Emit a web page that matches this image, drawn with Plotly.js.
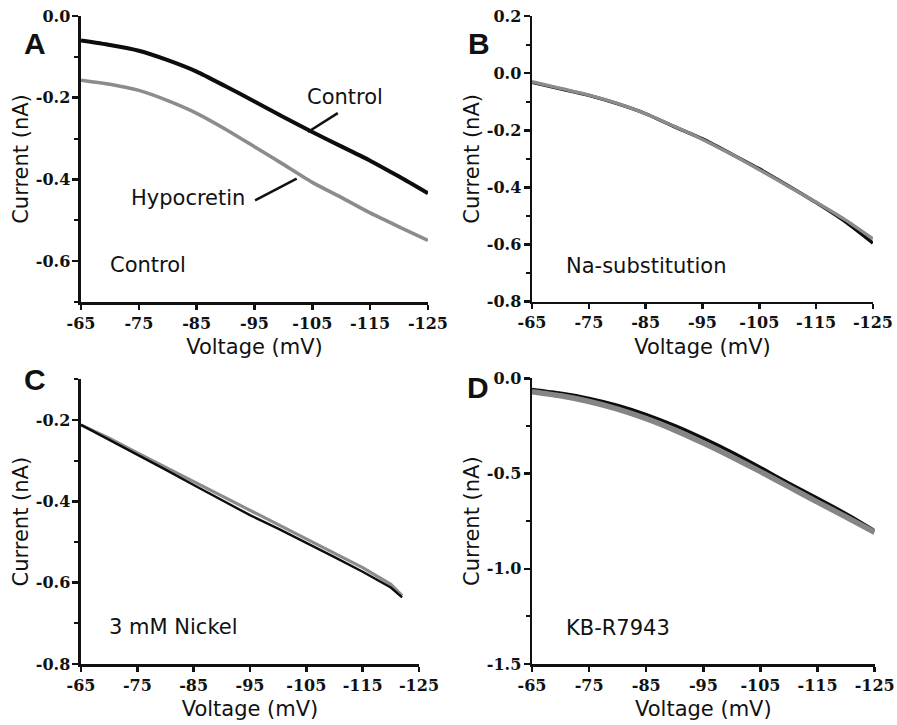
<!DOCTYPE html>
<html>
<head>
<meta charset="utf-8">
<script src="https://cdn.plot.ly/plotly-3.0.1.min.js"></script>
<style>html,body{margin:0;padding:0;background:#fff;}#chart{width:897px;height:725px;}</style>
</head>
<body>
<div id="chart"></div>
<script>
// ---- data ----
const voltage = [-65, -70, -75, -80, -85, -90, -95, -100, -105, -110, -115, -120, -125];
const aControl    = [-0.060, -0.071, -0.085, -0.108, -0.136, -0.172, -0.209, -0.247, -0.284, -0.319, -0.354, -0.393, -0.434];
const aHypocretin = [-0.157, -0.167, -0.182, -0.207, -0.238, -0.277, -0.320, -0.363, -0.407, -0.444, -0.482, -0.516, -0.549];
const bControl    = [-0.032, -0.055, -0.078, -0.107, -0.142, -0.187, -0.230, -0.282, -0.335, -0.393, -0.453, -0.518, -0.595];
const bHypocretin = [-0.030, -0.053, -0.077, -0.106, -0.142, -0.186, -0.232, -0.283, -0.338, -0.395, -0.452, -0.512, -0.580];
const voltageC    = [-65, -70, -75, -80, -85, -90, -95, -100, -105, -110, -115, -120, -122];
const cControl    = [-0.212, -0.248, -0.286, -0.322, -0.360, -0.396, -0.434, -0.467, -0.501, -0.537, -0.573, -0.612, -0.636];
const cHypocretin = [-0.212, -0.245, -0.281, -0.316, -0.352, -0.388, -0.422, -0.456, -0.491, -0.527, -0.563, -0.604, -0.632];
const dControl    = [-0.058, -0.078, -0.105, -0.142, -0.190, -0.248, -0.315, -0.388, -0.468, -0.551, -0.630, -0.711, -0.800];
const dHypocretin = [-0.070, -0.092, -0.122, -0.162, -0.212, -0.272, -0.340, -0.413, -0.490, -0.570, -0.650, -0.728, -0.808];

const xTickVals = [-65, -75, -85, -95, -105, -115, -125];
const xTickText = ['-65', '-75', '-85', '-95', '-105', '-115', '-125'];
const yTickValsA = [0, -0.2, -0.4, -0.6];
const yTickTextA = ['0.0', '-0.2', '-0.4', '-0.6'];
const yTickValsB = [0.2, 0, -0.2, -0.4, -0.6, -0.8];
const yTickTextB = ['0.2', '0.0', '-0.2', '-0.4', '-0.6', '-0.8'];
const yTickValsC = [-0.2, -0.4, -0.6, -0.8];
const yTickTextC = ['-0.2', '-0.4', '-0.6', '-0.8'];
const yTickValsD = [0, -0.5, -1.0, -1.5];
const yTickTextD = ['0.0', '-0.5', '-1.0', '-1.5'];

const BLACK = '#0d0d0d';
const GRAY = '#8c8c8c';

function tr(x, y, color, width, xa, ya, name, shape) {
  return {x: x, y: y, type: 'scatter', mode: 'lines', name: name,
          line: {color: color, width: width, shape: shape || 'spline', smoothing: 0.6},
          xaxis: xa, yaxis: ya, showlegend: false, hoverinfo: 'skip'};
}

const data = [
  tr(voltage, aControl, BLACK, 4, 'x', 'y', 'Control'),
  tr(voltage, aHypocretin, GRAY, 3.6, 'x', 'y', 'Hypocretin'),
  tr(voltage, bControl, BLACK, 3.4, 'x2', 'y2', 'Control'),
  tr(voltage, bHypocretin, GRAY, 3.4, 'x2', 'y2', 'Hypocretin'),
  tr(voltageC, cHypocretin, GRAY, 3.2, 'x3', 'y3', 'Hypocretin', 'linear'),
  tr(voltageC, cControl, BLACK, 2.4, 'x3', 'y3', 'Control', 'linear'),
  tr(voltage, dControl, BLACK, 3.4, 'x4', 'y4', 'Control'),
  tr(voltage, dHypocretin, '#858585', 5.5, 'x4', 'y4', 'Hypocretin')
];

function tickFont() { return {family: 'DejaVu Serif', size: 16, weight: 700, color: '#111'}; }
function titleFont() { return {family: 'DejaVu Sans', size: 21, color: '#111'}; }

function xax(domain, anchor) {
  return {domain: domain, anchor: anchor, range: [-65, -125], autorange: false,
          tickmode: 'array', tickvals: xTickVals, ticktext: xTickText,
          ticks: 'outside', ticklen: 5, tickwidth: 2.5, tickcolor: '#111',
          showline: true, linewidth: 2.5, linecolor: '#111', showgrid: false, zeroline: false,
          tickfont: tickFont(), automargin: false,
          title: {text: 'Voltage (mV)', font: titleFont(), standoff: 8}};
}
function yax(domain, anchor, range, vals, text, minorStep) {
  return {domain: domain, anchor: anchor, range: range, autorange: false,
          tickmode: 'array', tickvals: vals, ticktext: text,
          ticks: 'outside', ticklen: 6, tickwidth: 2.5, tickcolor: '#111',
          minor: {tickmode: 'linear', tick0: 0, dtick: minorStep, ticks: 'outside', ticklen: 4, tickwidth: 2, tickcolor: '#111', showgrid: false},
          showline: true, linewidth: 2.5, linecolor: '#111', showgrid: false, zeroline: false,
          tickfont: tickFont(), automargin: false, ticklabelstandoff: -1,
          title: {text: 'Current (nA)', font: titleFont(), standoff: 2}};
}

const letterFont = () => ({family: 'Liberation Sans', size: 30, weight: 700, color: '#111'});

const layout = {
  width: 897, height: 725,
  margin: {l: 0, r: 0, t: 0, b: 0},
  paper_bgcolor: '#fff', plot_bgcolor: '#fff',
  showlegend: false,
  xaxis:  xax([0.0903, 0.4771], 'y'),
  yaxis:  yax([0.5834, 0.9779], 'x', [-0.7, 0.0], yTickValsA, yTickTextA, 0.1),
  xaxis2: xax([0.5931, 0.9732], 'y2'),
  yaxis2: yax([0.5839, 0.9779], 'x2', [-0.8, 0.2], yTickValsB, yTickTextB, 0.1),
  xaxis3: xax([0.0903, 0.4671], 'y3'),
  yaxis3: yax([0.0841, 0.4768], 'x3', [-0.8, -0.1], yTickValsC, yTickTextC, 0.1),
  xaxis4: xax([0.5931, 0.9751], 'y4'),
  yaxis4: yax([0.0841, 0.4782], 'x4', [-1.5, 0.0], yTickValsD, yTickTextD, 0.25),
  annotations: [
    {text: 'A', xref: 'paper', yref: 'paper', x: 0.0245, y: 0.9655, showarrow: false, font: letterFont()},
    {text: 'B', xref: 'paper', yref: 'paper', x: 0.534, y: 0.9655, showarrow: false, font: letterFont()},
    {text: 'C', xref: 'paper', yref: 'paper', x: 0.0245, y: 0.4759, showarrow: false, font: letterFont()},
    {text: 'D', xref: 'paper', yref: 'paper', x: 0.533, y: 0.466, showarrow: false, font: letterFont()},
    {text: 'Control', xref: 'x', yref: 'y', x: -110.6, y: -0.198, showarrow: false, font: titleFont()},
    {text: 'Hypocretin', xref: 'x', yref: 'y', x: -83.5, y: -0.446, showarrow: false, font: titleFont()},
    {text: 'Control', xref: 'x', yref: 'y', x: -69.7, y: -0.61, xanchor: 'left', showarrow: false, font: titleFont()},
    {text: 'Na-substitution', xref: 'x2', yref: 'y2', x: -70.6, y: -0.675, xanchor: 'left', showarrow: false, font: titleFont()},
    {text: '3 mM Nickel', xref: 'x3', yref: 'y3', x: -69.7, y: -0.708, xanchor: 'left', showarrow: false, font: titleFont()},
    {text: 'KB-R7943', xref: 'x4', yref: 'y4', x: -70.6, y: -1.311, xanchor: 'left', showarrow: false, font: titleFont()}
  ],
  shapes: [
    {type: 'line', xref: 'x', yref: 'y', x0: -109.4, y0: -0.2376, x1: -104.25, y1: -0.284, line: {color: '#111', width: 2.5}},
    {type: 'line', xref: 'x', yref: 'y', x0: -95.1, y0: -0.451, x1: -102.3, y1: -0.398, line: {color: '#111', width: 2.5}}
  ]
};

Plotly.newPlot('chart', data, layout, {displayModeBar: false, staticPlot: true});
</script>
</body>
</html>
